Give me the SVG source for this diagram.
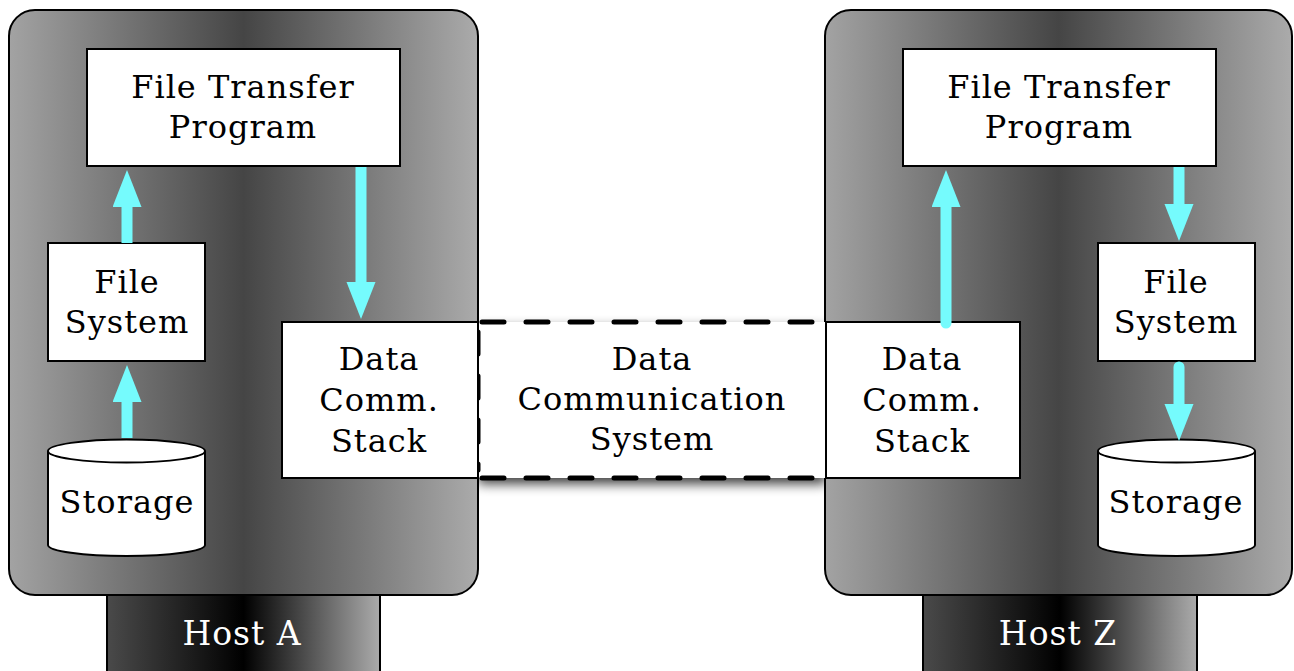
<svg xmlns="http://www.w3.org/2000/svg" width="1294" height="671" viewBox="0 0 1294 671">
<defs>
<linearGradient id="hostGrad" x1="0" y1="0" x2="1" y2="0">
<stop offset="0" stop-color="#a3a3a3"/>
<stop offset="0.5" stop-color="#454545"/>
<stop offset="1" stop-color="#ababab"/>
</linearGradient>
<linearGradient id="tabGrad" x1="0" y1="0" x2="1" y2="0">
<stop offset="0" stop-color="#4a4a4a"/>
<stop offset="0.5" stop-color="#000000"/>
<stop offset="1" stop-color="#ababab"/>
</linearGradient>
<filter id="shadow" x="-10%" y="-30%" width="120%" height="160%">
<feGaussianBlur stdDeviation="6"/>
</filter>
<marker id="head" markerUnits="userSpaceOnUse" markerWidth="40" markerHeight="30" refX="1" refY="14.5" orient="auto">
<path d="M0,0 L37,14.5 L0,29 z" fill="#75fbfd"/>
</marker>
<style>
.host{fill:url(#hostGrad);stroke:#000;stroke-width:2}
.tab{fill:url(#tabGrad);stroke:#000;stroke-width:2}
.box{fill:#fff;stroke:#000;stroke-width:2}
.t{font-family:"DejaVu Serif","Liberation Serif",serif;font-size:32px;letter-spacing:1px;fill:#000;text-anchor:middle}
.w{fill:#fff;font-size:33px}
.arrow{stroke:#75fbfd;stroke-width:11;fill:none;marker-end:url(#head)}
.dash{fill:none;stroke:#000;stroke-width:5;stroke-dasharray:22 22;stroke-linecap:round}
</style>
</defs>
<rect x="478" y="328" width="348" height="156" fill="#000" opacity="0.75" filter="url(#shadow)"/>
<g id="hostA">
<rect class="tab" x="107" y="590" width="273" height="90"/>
<rect class="host" x="9" y="10" width="469" height="585" rx="26"/>
<text class="t w" x="242" y="645">Host A</text>
</g>
<g id="hostZ">
<rect class="tab" x="923" y="590" width="274" height="90"/>
<rect class="host" x="825" y="10" width="467" height="585" rx="26"/>
<text class="t w" x="1058" y="645">Host Z</text>
</g>
<g id="dcs">
<rect x="478" y="322" width="348" height="156" fill="#fff"/>
<path class="dash" d="M482,322 H820 M482,478 H820 M478,332 V470"/>
<text class="t" x="652" y="370">Data</text>
<text class="t" x="652" y="410">Communication</text>
<text class="t" x="652" y="450">System</text>
</g>
<g id="ftpA">
<rect class="box" x="87" y="49" width="313" height="117"/>
<text class="t" x="243" y="98">File Transfer</text>
<text class="t" x="243" y="138">Program</text>
</g>
<g id="fsA">
<rect class="box" x="48" y="243" width="157" height="118"/>
<text class="t" x="127" y="293">File</text>
<text class="t" x="127" y="333">System</text>
</g>
<g id="stackA">
<rect class="box" x="282" y="322" width="196" height="156"/>
<text class="t" x="379" y="370">Data</text>
<text class="t" x="379" y="411">Comm.</text>
<text class="t" x="379" y="452">Stack</text>
</g>
<g id="storageA">
<path class="box" d="M48,451 A78.5,11.5 0 0 1 205,451 V545 A78.5,11 0 0 1 48,545 Z"/>
<path fill="none" stroke="#000" stroke-width="2" d="M48,451 A78.5,11.5 0 0 0 205,451"/>
<text class="t" x="127" y="513">Storage</text>
</g>
<g id="ftpZ">
<rect class="box" x="903" y="49" width="313" height="117"/>
<text class="t" x="1059" y="98">File Transfer</text>
<text class="t" x="1059" y="138">Program</text>
</g>
<g id="fsZ">
<rect class="box" x="1098" y="243" width="157" height="118"/>
<text class="t" x="1176" y="293">File</text>
<text class="t" x="1176" y="333">System</text>
</g>
<g id="stackZ">
<rect class="box" x="826" y="322" width="194" height="156"/>
<text class="t" x="922" y="370">Data</text>
<text class="t" x="922" y="411">Comm.</text>
<text class="t" x="922" y="452">Stack</text>
</g>
<g id="storageZ">
<path class="box" d="M1098,451 A78.5,11.5 0 0 1 1255,451 V545 A78.5,11 0 0 1 1098,545 Z"/>
<path fill="none" stroke="#000" stroke-width="2" d="M1098,451 A78.5,11.5 0 0 0 1255,451"/>
<text class="t" x="1176" y="513">Storage</text>
</g>
<g id="connectors">
<line class="arrow" x1="127" y1="243" x2="127" y2="206"/>
<line class="arrow" x1="127" y1="438" x2="127" y2="401"/>
<line class="arrow" x1="361" y1="167" x2="361" y2="283"/>
<line class="arrow" x1="946" y1="323" x2="946" y2="206" stroke-linecap="round"/>
<line class="arrow" x1="1179" y1="167" x2="1179" y2="205"/>
<line class="arrow" x1="1179" y1="367" x2="1179" y2="405" stroke-linecap="round"/>
</g>
</svg>
